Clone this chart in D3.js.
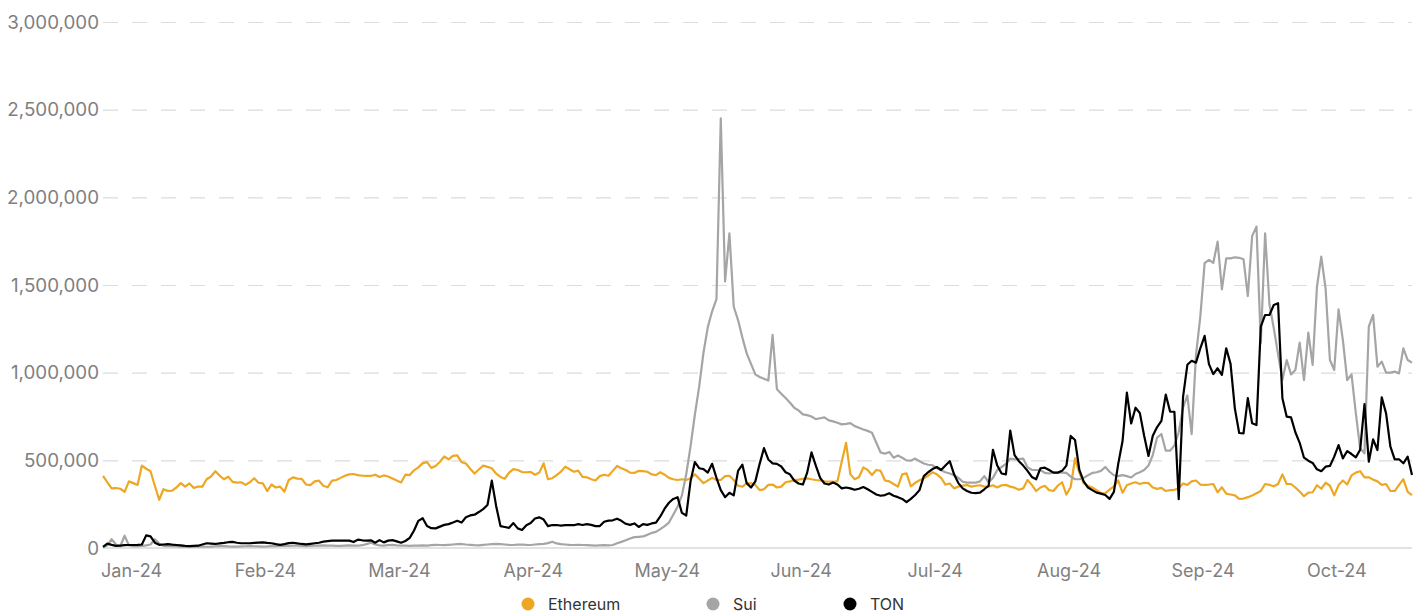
<!DOCTYPE html>
<html>
<head>
<meta charset="utf-8">
<script src="https://cdn.jsdelivr.net/npm/d3@7/dist/d3.min.js"></script>
<style>
  html, body { margin: 0; padding: 0; background: #fff; }
  #chart { width: 1422px; height: 615px; overflow: hidden; }
  .chart text { font-family: Inter, "Noto Sans", sans-serif; }
  .chart__axis text { fill: #808080; font-size: 18px; }
  .chart__axis--y text { font-size: 18.8px; }
  .chart__axis .domain { display: none; }
  .chart__grid line { stroke: #dcdcdc; stroke-width: 1.2; stroke-dasharray: 15 14; }
  .chart__legend text { fill: #333; font-size: 16px; }
</style>
</head>
<body>
<div id="chart"></div>
<script>
// daily values, in thousands of transactions
const ethereum = [
  411,375,340,342,338,320,380,370,359,470,
  452,438,355,275,335,325,327,345,370,350,
  368,343,350,350,392,408,438,413,392,407,
  377,373,375,360,375,398,372,369,325,362,
  345,350,321,388,403,396,394,362,359,380,
  384,355,346,384,388,400,412,420,422,416,
  412,411,411,418,405,414,408,397,385,374,
  418,416,443,460,484,490,457,468,492,522,
  505,525,528,490,482,452,425,448,470,463,
  455,424,405,395,430,450,445,433,432,434,
  418,430,483,392,398,416,435,464,449,435,
  441,406,403,392,385,410,418,412,440,468,
  455,445,430,428,440,438,435,420,416,432,
  418,400,392,388,392,388,398,420,395,370,
  385,400,388,388,410,412,388,355,350,369,
  369,360,330,335,360,362,345,350,375,380,
  387,390,394,397,392,388,385,380,378,378,
  380,492,600,420,392,405,460,445,416,445,
  440,385,380,365,350,420,426,352,372,386,
  398,412,432,420,400,362,368,340,350,356,
  359,350,355,358,350,350,358,345,358,360,
  350,344,332,340,388,360,325,345,355,330,
  325,355,375,305,348,511,430,369,355,345,
  330,312,312,333,352,385,315,358,368,375,
  365,372,370,345,337,343,325,330,332,340,
  368,360,380,385,362,360,362,365,318,346,
  310,305,300,280,282,290,300,312,325,365,
  360,352,365,420,365,365,345,322,295,316,
  318,358,338,372,355,300,359,385,362,414,
  430,438,403,403,390,380,360,365,325,325,
  360,392,320,302
];

const sui = [
  5,15,50,20,10,70,15,10,10,12,
  15,20,50,25,12,10,10,9,8,8,
  7,8,9,8,7,8,10,12,11,9,
  8,8,9,10,12,10,9,8,9,11,
  10,13,12,12,14,13,12,11,12,13,
  14,15,14,13,12,12,14,15,14,13,
  16,22,30,20,15,14,16,18,15,14,
  13,12,13,14,15,14,16,18,17,16,
  18,20,22,23,20,18,16,15,18,20,
  22,23,22,20,18,17,19,20,18,17,
  20,22,24,28,36,26,22,20,18,17,
  18,17,16,15,14,15,16,15,17,27,
  35,44,54,62,64,66,75,86,92,108,
  125,145,190,235,300,420,580,760,920,1115,
  1260,1350,1420,2450,1520,1795,1376,1300,1200,1110,
  1050,990,975,965,955,1215,905,880,855,830,
  800,785,762,758,750,735,740,745,728,722,
  714,705,708,712,695,686,676,668,657,600,
  545,538,548,515,528,515,500,498,510,495,
  482,475,472,456,444,432,425,415,400,378,
  373,373,373,380,410,375,400,445,462,480,
  510,506,507,510,460,446,445,445,428,425,
  430,430,430,428,407,392,392,400,415,428,
  432,440,462,435,415,410,416,410,402,422,
  432,445,470,530,630,650,555,555,585,660,
  800,870,650,1100,1320,1625,1643,1626,1747,1475,
  1652,1652,1658,1655,1647,1437,1780,1833,1170,1795,
  1390,1255,1105,960,1072,990,1015,1171,958,1228,
  1044,1490,1662,1480,1072,1015,1361,1186,958,990,
  768,568,540,1262,1329,1034,1063,1000,1000,1006,
  996,1139,1072,1057
];

const ton = [
  7,25,18,12,14,16,17,17,18,20,
  72,66,30,18,20,22,19,17,15,12,
  11,12,13,20,27,25,23,26,29,33,
  35,30,27,27,27,29,31,32,29,27,
  22,18,22,28,30,26,23,21,24,27,
  30,36,39,42,42,42,42,42,34,48,
  44,42,44,30,45,32,42,45,38,30,
  40,58,100,155,170,125,113,112,122,132,
  136,145,155,145,175,186,190,205,222,245,
  384,240,125,120,115,142,112,103,130,142,
  168,175,162,125,131,131,128,130,130,130,
  136,131,136,132,125,125,150,156,158,167,
  155,138,132,140,120,136,132,140,145,180,
  224,258,280,290,200,185,380,490,455,450,
  430,480,400,330,290,315,300,440,475,370,
  345,380,480,570,505,483,480,465,432,420,
  385,368,362,430,545,470,400,368,362,373,
  362,340,345,340,332,338,348,335,320,305,
  298,302,312,298,290,280,262,280,302,330,
  410,432,450,462,445,470,495,420,370,340,
  325,315,313,316,335,355,560,470,425,420,
  670,530,495,470,440,405,392,455,458,445,
  430,430,440,470,639,616,445,380,345,330,
  316,310,302,280,320,480,610,886,710,800,
  770,640,525,640,690,725,875,778,777,278,
  860,1045,1068,1057,1139,1210,1049,992,1025,987,
  1139,1050,795,656,654,855,711,701,1262,1329,
  1329,1386,1396,854,749,745,660,600,515,498,
  485,449,438,464,468,521,587,511,553,536,
  517,560,821,492,620,559,859,768,578,506,
  506,483,521,416
];

const monthLabels = ['Jan-24', 'Feb-24', 'Mar-24', 'Apr-24', 'May-24',
  'Jun-24', 'Jul-24', 'Aug-24', 'Sep-24', 'Oct-24'];
// category index under each month label
const monthIndex = [6.5, 37.5, 68.5, 99.5, 130.5, 161.5, 192.5, 223.5, 254.5, 285.5];

const yTicks = [0, 500000, 1000000, 1500000, 2000000, 2500000, 3000000];

const seriesNames = ['Ethereum', 'Sui', 'TON'];
const seriesColors = ['#eea722', '#a5a5a5', '#000000'];

const margins = { top: 22, right: 10, bottom: 67, left: 103 };
const fullWidth = 1422;
const fullHeight = 615;
const width = fullWidth - margins.left - margins.right;
const height = fullHeight - margins.top - margins.bottom;

const series = [ethereum, sui, ton].map(function(values, i) {
  return { name: seriesNames[i], color: seriesColors[i], values: values };
});

const n = ethereum.length;

const xScale = d3.scaleLinear()
  .domain([0, n - 1])
  .range([0, width]);

const yScale = d3.scaleLinear()
  .domain([0, 3000000])
  .range([height, 0]);

const container = d3.select('#chart').append('svg')
  .attr('class', 'chart')
  .attr('width', fullWidth)
  .attr('height', fullHeight);

const svg = container.append('g')
  .attr('transform', `translate(${margins.left},${margins.top})`);

// y axis + dashed grid
const yAxis = d3.axisLeft(yScale)
  .tickValues(yTicks)
  .tickFormat(d3.format(','))
  .tickSizeInner(-width)
  .tickSizeOuter(0)
  .tickPadding(4);

const yG = svg.append('g')
  .attr('class', 'chart__axis chart__axis--y chart__grid')
  .call(yAxis);

yG.selectAll('.tick').filter(d => d === 0).select('line').remove();

// solid baseline
svg.append('line')
  .attr('x1', 0)
  .attr('x2', width)
  .attr('y1', yScale(0))
  .attr('y2', yScale(0))
  .attr('stroke', '#e2e2e2')
  .attr('stroke-width', 2);

// x axis labels
const xAxis = d3.axisBottom(xScale)
  .tickValues(monthIndex)
  .tickFormat((d, i) => monthLabels[i])
  .tickSize(0)
  .tickPadding(16);

svg.append('g')
  .attr('class', 'chart__axis chart__axis--x')
  .attr('transform', `translate(0,${height})`)
  .call(xAxis);

// lines
const line = d3.line()
  .x((d, i) => xScale(i))
  .y(d => yScale(d * 1000));

svg.selectAll('.chart__line')
  .data(series)
  .enter().append('path')
  .attr('class', 'chart__line')
  .attr('fill', 'none')
  .attr('stroke', d => d.color)
  .attr('stroke-width', 2.2)
  .attr('stroke-linejoin', 'round')
  .attr('d', d => line(d.values));

// legend along the bottom edge
const legendX = [528, 713, 850];
const legend = container.append('g')
  .attr('class', 'chart__legend');

const item = legend.selectAll('g')
  .data(series)
  .enter().append('g')
  .attr('transform', (d, i) => `translate(${legendX[i]},604)`);

item.append('circle')
  .attr('r', 6.5)
  .attr('fill', d => d.color);

item.append('text')
  .attr('x', 20)
  .attr('y', 6)
  .text(d => d.name);
</script>
</body>
</html>
